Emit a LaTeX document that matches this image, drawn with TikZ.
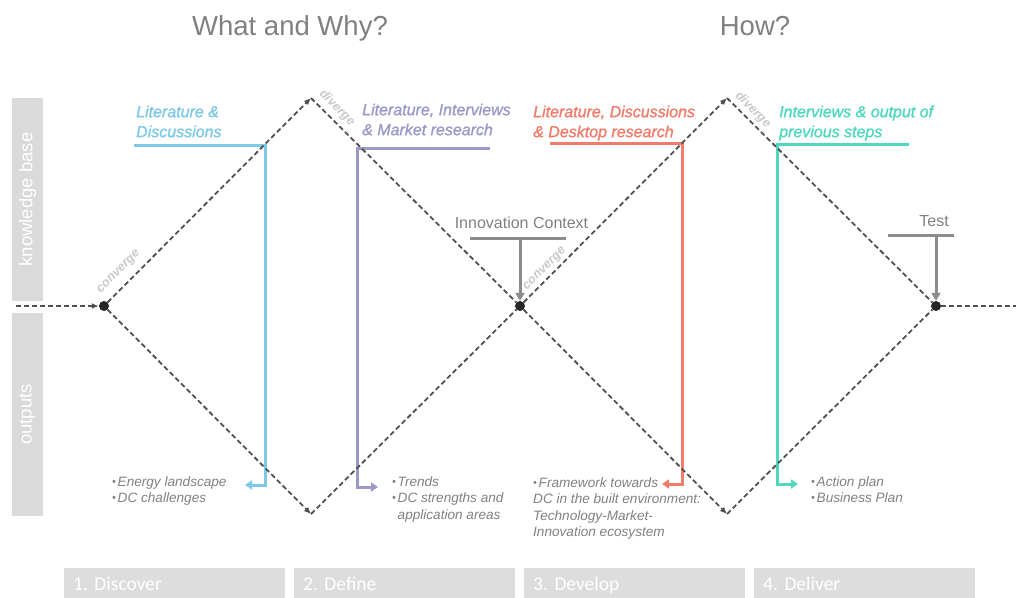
\documentclass[tikz,border=0pt]{standalone}
\usepackage{fontspec}
\setmainfont{Liberation Sans}
\newfontfamily\carlitofont{Carlito}
\newfontfamily\heavyfont[FakeBold=1.3]{Liberation Sans}
\usetikzlibrary{arrows.meta}
\definecolor{cblue}{RGB}{126,200,232}
\definecolor{cpurple}{RGB}{155,153,201}
\definecolor{cred}{RGB}{240,124,108}
\definecolor{cteal}{RGB}{79,216,190}
\definecolor{dashgray}{RGB}{80,80,80}
\definecolor{txtgray}{RGB}{128,128,128}
\definecolor{ctxgray}{RGB}{140,140,140}
\definecolor{boxgray}{RGB}{218,218,218}
\definecolor{phasegray}{RGB}{221,221,221}
\definecolor{faint}{RGB}{200,200,200}
\newcommand\fl{\rule{0pt}{0.8em}}
\newcommand\bul{\makebox[5.5pt][l]{\raisebox{0.06em}{\scalebox{0.8}{•}}}}
\frenchspacing
\begin{document}
\begin{tikzpicture}[x=1pt,y=-1pt,
  flow/.style={dashgray, line width=1.8pt, dash pattern=on 5pt off 3pt},
  flowarrow/.style={flow, -{Latex[length=7pt,width=6pt]}},
  dot/.style={circle, fill=black!85, inner sep=0pt, minimum size=10pt},
  tag/.style={faint, inner sep=0pt, font=\fontsize{12.5}{12.5}\selectfont\bfseries\itshape},
  label/.style={anchor=north west, inner sep=0pt, align=left, font=\heavyfont\fontsize{16}{20}\selectfont\itshape},
  outlist/.style={anchor=north west, inner sep=0pt, align=left, txtgray, font=\fontsize{13.6}{16.4}\selectfont\itshape},
  feed/.style={line width=3pt, -{Triangle[length=7pt,width=9pt]}},
  ctx/.style={ctxgray, line width=3pt},
  ctxarrow/.style={ctx, -{Triangle[length=8pt,width=9pt]}},
  ctxtext/.style={anchor=base, txtgray, inner sep=0pt, font=\fontsize{16}{18}\selectfont},
  title/.style={anchor=base, txtgray, inner sep=0pt, font=\fontsize{27.5}{30}\selectfont},
  sidebox/.style={fill=boxgray, rotate=90, minimum width=203pt, minimum height=31pt, inner sep=0pt, text=white, font=\fontsize{18.5}{20}\selectfont},
  phase/.style={anchor=north west, fill=phasegray, minimum width=221pt, minimum height=34pt, text width=203pt, text height=14pt, text depth=3pt, inner xsep=9pt, inner ysep=0pt, align=left, text=white, font=\carlitofont\fontsize{19.5}{20}\selectfont}
]
\useasboundingbox (0,0) rectangle (1016,597);

% titles
\node[title] (t1) at (290,35) {What and Why?};
\node[title] (t2) at (755,35) {How?};

% side boxes
\node[sidebox] (kb) at (27.5,199.5) {knowledge base};
\node[sidebox] (ob) at (27.5,414.5) {outputs};

% phase boxes
\node[phase] (p1) at (64,568) {1. Discover};
\node[phase] (p2) at (294,568) {2. Define};
\node[phase] (p3) at (524,568) {3. Develop};
\node[phase] (p4) at (754,568) {4. Deliver};

% colored feeds
\coordinate (b1a) at (134,145); \coordinate (b1b) at (265,145);
\coordinate (b1c) at (265,485); \coordinate (b1d) at (245,485);
\draw[feed, cblue] (b1a) -- (b1b) -- (b1c) -- (b1d);
\coordinate (b2a) at (490,148); \coordinate (b2b) at (357,148);
\coordinate (b2c) at (357,487); \coordinate (b2d) at (378,487);
\draw[feed, cpurple] (b2a) -- (b2b) -- (b2c) -- (b2d);
\coordinate (b3a) at (550,143); \coordinate (b3b) at (682,143);
\coordinate (b3c) at (682,484); \coordinate (b3d) at (662,484);
\draw[feed, cred] (b3a) -- (b3b) -- (b3c) -- (b3d);
\coordinate (b4a) at (909,144); \coordinate (b4b) at (777,144);
\coordinate (b4c) at (777,484); \coordinate (b4d) at (798,484);
\draw[feed, cteal] (b4a) -- (b4b) -- (b4c) -- (b4d);

% diamonds
\coordinate (in) at (16,306);
\node[dot] (c1) at (104,306) {};
\coordinate (d1t) at (311,98);
\coordinate (d1b) at (311,514);
\node[dot] (c2) at (520,306) {};
\coordinate (d2t) at (727,98);
\coordinate (d2b) at (727,514);
\node[dot] (c3) at (936,306) {};
\coordinate (out) at (1016,306);

\draw[flowarrow] (in) -- (c1);
\draw[flowarrow] (c1) -- (d1t);
\draw[flow] (d1t) -- (c2);
\draw[flowarrow] (c1) -- (d1b);
\draw[flow] (d1b) -- (c2);
\draw[flowarrow] (c2) -- (d2t);
\draw[flow] (d2t) -- (c3);
\draw[flowarrow] (c2) -- (d2b);
\draw[flow] (d2b) -- (c3);
\draw[flow] (c3) -- (out);

% converge / diverge tags
\node[tag, rotate=45] (g1) at (119,272) {converge};
\node[tag, rotate=-45] (g2) at (337,108) {diverge};
\node[tag, rotate=45] (g3) at (545,269) {converge};
\node[tag, rotate=-45] (g4) at (753,110) {diverge};

% source labels
\node[label, cblue] (l1) at (136,104.2) {\fl Literature \&\\Discussions};
\node[label, cpurple] (l2) at (362,102.2) {\fl Literature, Interviews\\\& Market research};
\node[label, cred] (l3) at (533,104.2) {\fl Literature, Discussions\\\& Desktop research};
\node[label, cteal] (l4) at (779,104.2) {\fl Interviews \& output of\\previous steps};

% context inputs
\node[ctxtext] (ic) at (521.5,228) {Innovation Context};
\coordinate (ica) at (470,238); \coordinate (icb) at (566,238);
\coordinate (icm) at (520,238);
\draw[ctx] (ica) -- (icb);
\draw[ctxarrow] (icm) -- (c2);
\node[ctxtext] (te) at (934,226) {Test};
\coordinate (tea) at (888,235); \coordinate (teb) at (954,235);
\coordinate (tem) at (936,235);
\draw[ctx] (tea) -- (teb);
\draw[ctxarrow] (tem) -- (c3);

% outputs
\node[outlist] (o1) at (112,475.2) {\fl\bul Energy landscape\\\bul DC challenges};
\node[outlist] (o2) at (392,475.2) {\fl\bul Trends\\\bul DC strengths and\\\hspace*{5.5pt}application areas};
\node[outlist] (o3) at (533,476.2) {\fl\bul Framework towards\\DC in the built environment:\\Technology-Market-\\Innovation ecosystem};
\node[outlist] (o4) at (811,475.2) {\fl\bul Action plan\\\bul Business Plan};
\end{tikzpicture}
\end{document}
